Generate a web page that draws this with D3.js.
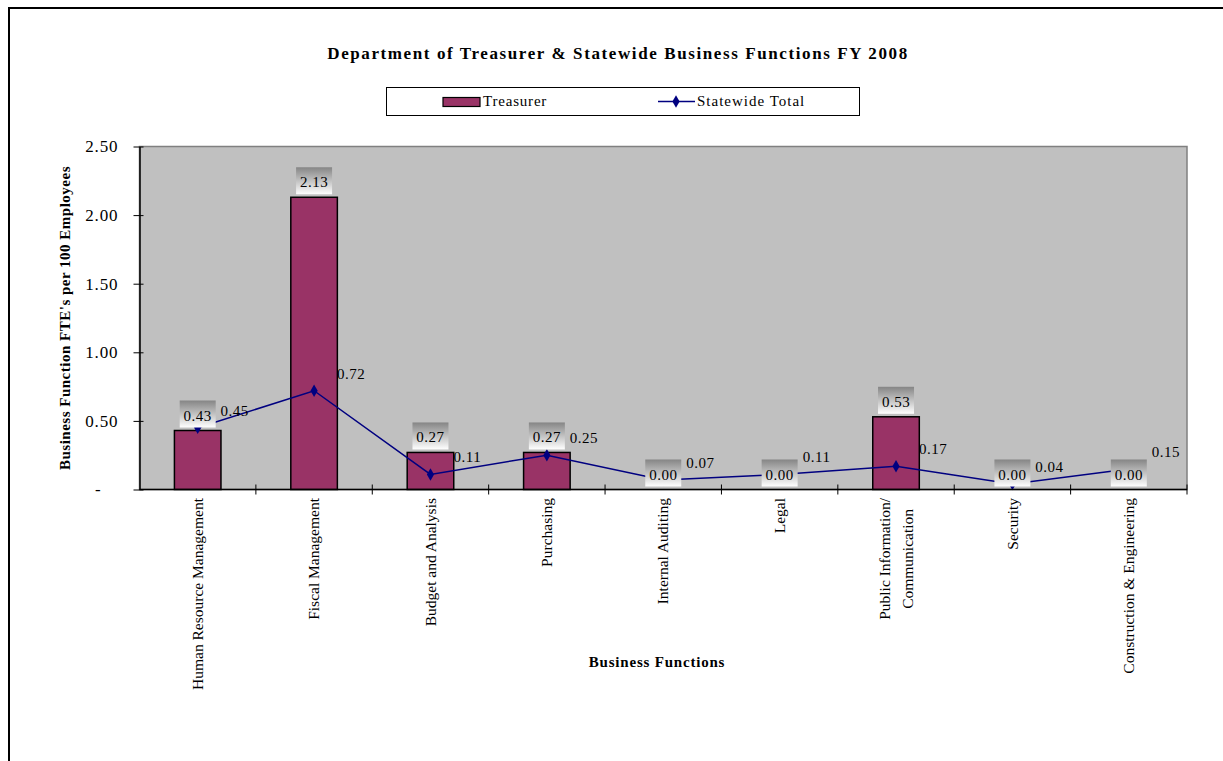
<!DOCTYPE html>
<html>
<head>
<meta charset="utf-8">
<script src="https://cdn.jsdelivr.net/npm/d3@7/dist/d3.min.js"></script>
<style>
  body { margin: 0; background: #fff; }
  svg text { font-family: "Liberation Serif", "Times New Roman", serif; fill: #000; }
</style>
</head>
<body>
<div id="chart"></div>
<script>
// chart data
var categories = [
  "Human Resource Management",
  "Fiscal Management",
  "Budget and Analysis",
  "Purchasing",
  "Internal Auditing",
  "Legal",
  "Public Information/\nCommunication",
  "Security",
  "Construction & Engineering"
];
var treasurer = [0.43, 2.13, 0.27, 0.27, 0.0, 0.0, 0.53, 0.0, 0.0];
var statewide = [0.45, 0.72, 0.11, 0.25, 0.07, 0.11, 0.17, 0.04, 0.15];
var yTicks = [0, 0.5, 1.0, 1.5, 2.0, 2.5];

var width = 1223, height = 761;
var plot = { left: 139.5, right: 1187, top: 146.5, bottom: 489.5 };

var svg = d3.select("#chart").append("svg")
  .attr("width", width)
  .attr("height", height);

// gradient for bar labels
var defs = svg.append("defs");
var grad = defs.append("linearGradient")
  .attr("id", "labelGrad")
  .attr("x1", 0).attr("y1", 0).attr("x2", 0).attr("y2", 1);
grad.append("stop").attr("offset", "0%").attr("stop-color", "#858585");
grad.append("stop").attr("offset", "100%").attr("stop-color", "#ffffff");

// outer frame
svg.append("rect")
  .attr("x", 9).attr("y", 8)
  .attr("width", width + 20).attr("height", height + 20)
  .attr("fill", "none")
  .attr("stroke", "#000")
  .attr("stroke-width", 2);

// title
svg.append("text")
  .attr("x", 618).attr("y", 59)
  .attr("text-anchor", "middle")
  .attr("font-size", "17px")
  .attr("font-weight", "bold")
  .attr("letter-spacing", "1.6px")
  .text("Department of Treasurer & Statewide Business Functions FY 2008");

// scales
var x = d3.scaleBand()
  .domain(categories)
  .range([plot.left, plot.right])
  .padding(0);

var y = d3.scaleLinear()
  .domain([0, 2.5])
  .range([plot.bottom, plot.top]);

// plot background
svg.append("rect")
  .attr("x", plot.left).attr("y", plot.top)
  .attr("width", plot.right - plot.left)
  .attr("height", plot.bottom - plot.top)
  .attr("fill", "#c0c0c0")
  .attr("stroke", "#808080")
  .attr("stroke-width", 1.5);

// bars
var barW = x.bandwidth() * 0.4;
svg.selectAll(".bar")
  .data(treasurer)
  .enter()
  .append("rect")
  .attr("class", "bar")
  .attr("x", function (d, i) { return x(categories[i]) + x.bandwidth() / 2 - barW / 2; })
  .attr("y", function (d) { return y(d); })
  .attr("width", barW)
  .attr("height", function (d) { return plot.bottom - y(d); })
  .attr("fill", "#993366")
  .attr("stroke", "#000")
  .attr("stroke-width", 1.5);

// statewide line
var cx = function (i) { return x(categories[i]) + x.bandwidth() / 2; };
var line = d3.line()
  .x(function (d, i) { return cx(i); })
  .y(function (d) { return y(d); });

svg.append("path")
  .datum(statewide)
  .attr("d", line)
  .attr("fill", "none")
  .attr("stroke", "#000080")
  .attr("stroke-width", 1.5);

svg.selectAll(".marker")
  .data(statewide)
  .enter()
  .append("path")
  .attr("class", "marker")
  .attr("d", d3.symbol().type(d3.symbolDiamond).size(45))
  .attr("transform", function (d, i) { return `translate(${cx(i)},${y(d)})`; })
  .attr("fill", "#000080");

// axes
var yAxis = d3.axisLeft(y)
  .tickValues(yTicks)
  .tickSizeInner(-6)
  .tickSizeOuter(0)
  .tickFormat(function (d) { return d === 0 ? "-" : d.toFixed(2); });

var gy = svg.append("g")
  .attr("transform", `translate(${plot.left},0)`)
  .call(yAxis);
gy.select(".domain").attr("stroke", "#000").attr("stroke-width", 1.5);
gy.selectAll(".tick line").attr("x1", -6).attr("x2", 4).attr("stroke", "#000");
gy.selectAll(".tick text")
  .attr("x", -21)
  .attr("font-size", "17px")
  .attr("letter-spacing", "0.9px")
  .attr("font-family", "Liberation Serif");
gy.selectAll(".tick")
  .filter(function (d) { return d === 0; })
  .select("text").attr("x", -38);

svg.append("line")
  .attr("x1", plot.left).attr("x2", plot.right)
  .attr("y1", plot.bottom).attr("y2", plot.bottom)
  .attr("stroke", "#000").attr("stroke-width", 1.5);

// x ticks between categories
svg.selectAll(".xtick")
  .data(d3.range(categories.length + 1).slice(1))
  .enter()
  .append("line")
  .attr("class", "xtick")
  .attr("x1", function (i) { return plot.left + i * x.step(); })
  .attr("x2", function (i) { return plot.left + i * x.step(); })
  .attr("y1", plot.bottom - 5)
  .attr("y2", plot.bottom + 5)
  .attr("stroke", "#000");

// category labels, rotated
var labelTop = 498;
var catFont = 15.5;
categories.forEach(function (c, i) {
  var lines = c.split("\n");
  var g = svg.append("g");
  var texts = lines.map(function (l, j) {
    return g.append("text")
      .attr("font-size", catFont + "px")
      .text(l);
  });
  var maxLen = d3.max(texts, function (t) { return t.node().getComputedTextLength(); });
  var lh = 23;
  texts.forEach(function (t, j) {
    var lx = cx(i) + (j - (lines.length - 1) / 2) * lh;
    var ly = labelTop + maxLen / 2;
    t.attr("text-anchor", "middle")
      .attr("dy", "0.33em")
      .attr("transform", `translate(${lx},${ly}) rotate(-90)`);
  });
});

// axis titles
svg.append("text")
  .attr("x", 657).attr("y", 667)
  .attr("text-anchor", "middle")
  .attr("font-size", "15px")
  .attr("font-weight", "bold")
  .attr("letter-spacing", "0.8px")
  .text("Business Functions");

svg.append("text")
  .attr("transform", `translate(70,${(plot.top + plot.bottom) / 2}) rotate(-90)`)
  .attr("text-anchor", "middle")
  .attr("font-size", "15px")
  .attr("font-weight", "bold")
  .attr("letter-spacing", "0.5px")
  .text("Business Function FTE's per 100 Employees");

// bar value labels with gradient boxes
var boxW = 36, boxH = 27;
var barLabels = svg.selectAll(".barlabel")
  .data(treasurer)
  .enter()
  .append("g")
  .attr("class", "barlabel")
  .attr("transform", function (d, i) { return `translate(${cx(i)},${y(d) - 3})`; });
barLabels.append("rect")
  .attr("x", -boxW / 2).attr("y", -boxH)
  .attr("width", boxW).attr("height", boxH)
  .attr("fill", "url(#labelGrad)");
barLabels.append("text")
  .attr("y", -7)
  .attr("text-anchor", "middle")
  .attr("font-size", "15px")
  .attr("letter-spacing", "0.5px")
  .text(function (d) { return d.toFixed(2); });

// line value labels
svg.selectAll(".linelabel")
  .data(statewide)
  .enter()
  .append("text")
  .attr("class", "linelabel")
  .attr("x", function (d, i) { return cx(i) + 37; })
  .attr("y", function (d) { return y(d) - 12; })
  .attr("text-anchor", "middle")
  .attr("font-size", "15px")
  .attr("letter-spacing", "0.5px")
  .text(function (d) { return d.toFixed(2); });

// legend
var legend = svg.append("g");
legend.append("rect")
  .attr("x", 386.5).attr("y", 87.5)
  .attr("width", 473).attr("height", 28)
  .attr("fill", "#fff")
  .attr("stroke", "#000")
  .attr("stroke-width", 1);
legend.append("rect")
  .attr("x", 443).attr("y", 97.5)
  .attr("width", 37).attr("height", 9)
  .attr("fill", "#993366")
  .attr("stroke", "#000")
  .attr("stroke-width", 1.2);
legend.append("text")
  .attr("x", 483).attr("y", 106)
  .attr("font-size", "15px")
  .attr("letter-spacing", "0.8px")
  .text("Treasurer");
legend.append("line")
  .attr("x1", 658).attr("x2", 695)
  .attr("y1", 101.5).attr("y2", 101.5)
  .attr("stroke", "#000080")
  .attr("stroke-width", 1.5);
legend.append("path")
  .attr("d", d3.symbol().type(d3.symbolDiamond).size(45))
  .attr("transform", "translate(676,101.5)")
  .attr("fill", "#000080");
legend.append("text")
  .attr("x", 697).attr("y", 106)
  .attr("font-size", "15px")
  .attr("letter-spacing", "1px")
  .text("Statewide Total");
</script>
</body>
</html>
